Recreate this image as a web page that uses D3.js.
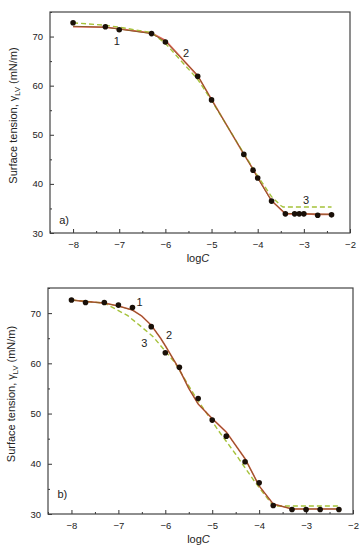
<!DOCTYPE html>
<html><head><meta charset="utf-8">
<script src="https://cdn.jsdelivr.net/npm/d3@7/dist/d3.min.js"></script>
<style>body{margin:0;background:#fff}svg{display:block}text{font-family:Arial,"Liberation Sans",sans-serif;fill:#222}</style>
</head><body><svg id="c" width="362" height="550"></svg>
<script>
// Panel a data
const aPtsX = [-8, -7.3, -7, -6.3, -6, -5.3, -5, -4.3, -4.1, -4, -3.7, -3.4, -3.2, -3.1, -3.0, -2.7, -2.4];
const aPtsY = [72.8, 72.0, 71.4, 70.6, 68.9, 61.9, 57.1, 46.0, 42.8, 41.2, 36.5, 33.9, 33.9, 33.9, 33.9, 33.6, 33.7];
const aC1X = [-8, -7.3, -7, -6.3, -6, -5.3, -5, -4.3, -4.1, -4, -3.7, -3.4, -3.2, -3.0, -2.7, -2.4];
const aC1Y = [72.0, 71.9, 71.6, 70.7, 69.2, 62.0, 57.2, 46.0, 43.0, 41.3, 36.6, 33.9, 33.9, 33.9, 33.8, 33.8];
const aC2X = [-8, -7.3, -7, -6.3, -6, -5.3, -5, -4.3, -4.1, -4, -3.7, -3.4, -3.0, -2.4];
const aC2Y = [72.1, 71.9, 71.5, 70.6, 69.0, 62.1, 57.1, 46.1, 42.9, 41.2, 36.5, 34.0, 33.9, 33.8];
const aC3X = [-8, -7.3, -7, -6.3, -6, -5.3, -5, -4.3, -4, -3.7, -3.5, -3.45, -2.4];
const aC3Y = [72.8, 72.3, 71.9, 70.8, 68.6, 61.3, 57.0, 46.2, 41.6, 37.4, 35.6, 35.3, 35.3];

// Panel b data
const bPtsX = [-8, -7.7, -7.3, -7, -6.7, -6.3, -6, -5.7, -5.3, -5, -4.7, -4.3, -4, -3.7, -3.3, -3, -2.7, -2.3];
const bPtsY = [72.6, 72.1, 72.1, 71.6, 71.1, 67.3, 62.1, 59.2, 53.0, 48.7, 45.5, 40.4, 36.2, 31.7, 30.9, 30.9, 30.9, 30.9];
const bC1X = [-8, -7.7, -7.3, -7, -6.7, -6.5, -6.3, -6.1, -6, -5.7, -5.5, -5.3, -5, -4.7, -4.3, -4, -3.7, -3.3, -3, -2.3];
const bC1Y = [72.6, 72.3, 72.0, 71.4, 70.6, 69.4, 67.6, 65.0, 63.5, 58.8, 55.0, 51.9, 49.0, 46.3, 41.0, 35.6, 32.0, 31.0, 31.0, 31.0];
const bC3X = [-8, -7.3, -6.8, -6.5, -6.26, -5.8, -5.37, -4.86, -4.5, -4.1, -3.75, -3.7, -2.3];
const bC3Y = [72.6, 72.0, 69.5, 67.2, 65.3, 60.2, 53.5, 46.5, 41.9, 36.5, 32.2, 31.6, 31.6];

const xTicks = [-8, -7, -6, -5, -4, -3, -2];
const yTicks = [30, 40, 50, 60, 70];
const xDomain = [-8.5, -2], yDomain = [30, 75];

const svg = d3.select("#c");

function panel(box, pts, curves, labels, tag) {
  const x = d3.scaleLinear().domain(xDomain).range([box.l, box.r]);
  const y = d3.scaleLinear().domain(yDomain).range([box.b, box.t]);
  const g = svg.append("g");
  const xa = g.append("g").attr("transform", `translate(0,${box.b})`)
    .call(d3.axisBottom(x).tickValues(xTicks).tickSize(-4).tickPadding(8).tickFormat(d3.format("d")));
  const xm = g.append("g").attr("transform", `translate(0,${box.b})`)
    .call(d3.axisBottom(x).tickValues(d3.range(-8.5, -2, 1)).tickSize(-2).tickFormat(""));
  const ya = g.append("g").attr("transform", `translate(${box.l},0)`)
    .call(d3.axisLeft(y).tickValues(yTicks).tickSize(-4).tickPadding(7).tickFormat(d3.format("d")));
  const ym = g.append("g").attr("transform", `translate(${box.l},0)`)
    .call(d3.axisLeft(y).tickValues([35, 45, 55, 65, 75]).tickSize(-2).tickFormat(""));
  [xa, xm, ya, ym].forEach(a => {
    a.select(".domain").remove();
    a.selectAll("line").attr("stroke", "#333").attr("stroke-width", 1);
    a.selectAll("text").style("font-size", "9.5px").attr("fill", "#222");
  });
  g.append("rect").attr("x", box.l).attr("y", box.t).attr("width", box.r - box.l).attr("height", box.b - box.t)
    .attr("fill", "none").attr("stroke", "#444").attr("stroke-width", 1.2);

  const line = d3.line().x(d => x(d[0])).y(d => y(d[1]));
  curves.forEach(c => {
    g.append("path").datum(c.xs.map((v, i) => [v, c.ys[i]]))
      .attr("d", line).attr("fill", "none").attr("stroke", c.color)
      .attr("stroke-width", c.w).attr("stroke-dasharray", c.dash || null).attr("opacity", c.op || 1);
  });
  g.selectAll("circle.p").data(pts.xs.map((v, i) => [v, pts.ys[i]])).enter().append("circle")
    .attr("cx", d => x(d[0])).attr("cy", d => y(d[1])).attr("r", 2.8).attr("fill", "#1a1008");
  labels.forEach(l => {
    g.append("text").attr("x", x(l.x)).attr("y", y(l.y)).text(l.t).style("font-size", "11px").attr("text-anchor", "middle");
  });
  g.append("text").attr("x", x(tag.x)).attr("y", y(tag.y)).text(tag.t).style("font-size", "11px");
  const xt = g.append("text").attr("x", (box.l + box.r) / 2 - 2).attr("y", box.b + 29).attr("text-anchor", "middle").style("font-size", "11px");
  xt.append("tspan").text("log");
  xt.append("tspan").text("C").style("font-style", "italic");
  const cy = (box.t + box.b) / 2 - 7;
  const yt = g.append("text").attr("transform", `translate(${box.l - 33},${cy}) rotate(-90)`).attr("text-anchor", "middle").style("font-size", "11px");
  yt.append("tspan").text("Surface tension, \u03B3");
  yt.append("tspan").text("LV").style("font-size", "7.5px").attr("dy", 3);
  yt.append("tspan").text(" (mN/m)").attr("dy", -3);
}

const red = "#d23a2a", brown = "#8a5a28", green = "#a5c23a";

panel({l: 50, r: 350, t: 12, b: 233},
  {xs: aPtsX, ys: aPtsY},
  [
    {xs: aC1X, ys: aC1Y, color: red, w: 1.6, op: 0.8},
    {xs: aC3X, ys: aC3Y, color: green, w: 1.4, dash: "5,3"},
    {xs: aC2X, ys: aC2Y, color: brown, w: 1},
  ],
  [{x: -7.05, y: 68.3, t: "1"}, {x: -5.55, y: 65.8, t: "2"}, {x: -2.95, y: 36.0, t: "3"}],
  {x: -8.3, y: 31.8, t: "a)"});

panel({l: 48, r: 353, t: 288, b: 514},
  {xs: bPtsX, ys: bPtsY},
  [
    {xs: bC3X, ys: bC3Y, color: green, w: 1.4, dash: "5,3"},
    {xs: bC1X, ys: bC1Y, color: red, w: 1.6, op: 0.8},
    {xs: bC1X, ys: bC1Y, color: brown, w: 1},
  ],
  [{x: -6.55, y: 71.4, t: "1"}, {x: -5.92, y: 64.8, t: "2"}, {x: -6.45, y: 63.2, t: "3"}],
  {x: -8.3, y: 33.2, t: "b)"});
</script></body></html>
